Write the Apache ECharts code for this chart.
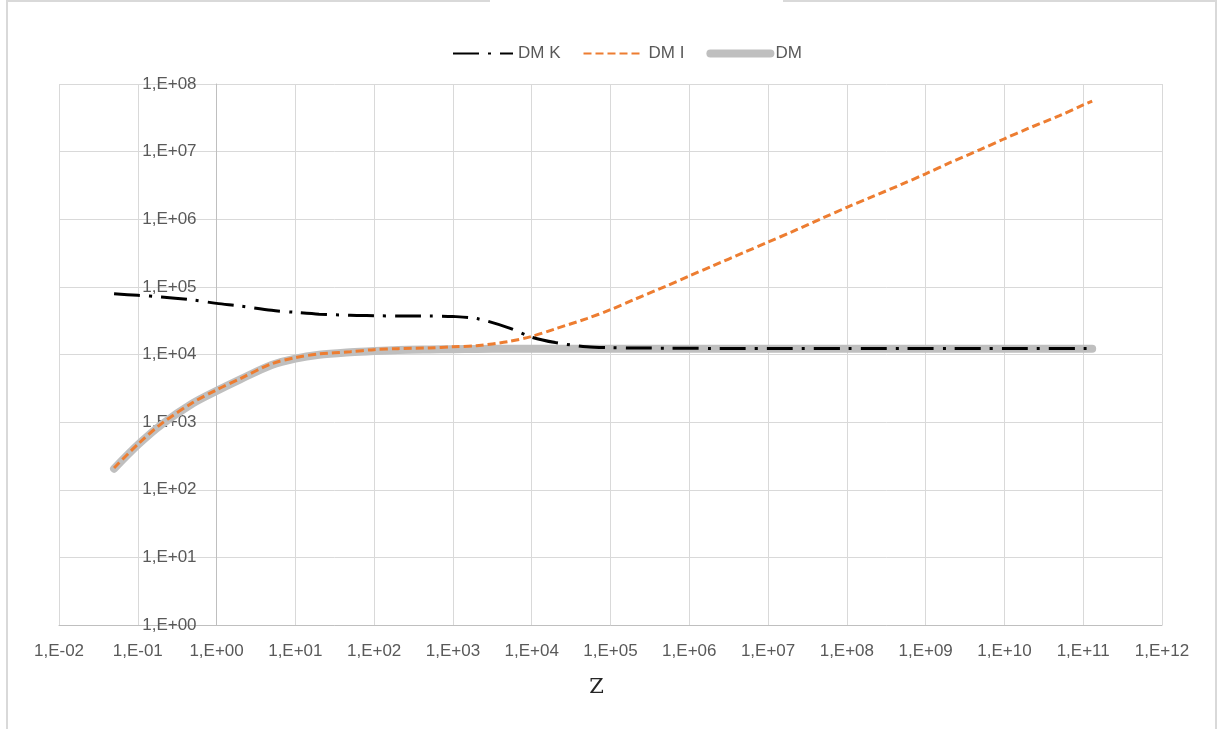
<!DOCTYPE html>
<html>
<head>
<meta charset="utf-8">
<script src="https://cdn.jsdelivr.net/npm/echarts@6/dist/echarts.min.js"></script>
<style>
html,body{margin:0;padding:0;background:#fff;}
#chart{width:1226px;height:729px;}
</style>
</head>
<body>
<div id="chart"></div>
<script>
// Z values (x axis)
const zValues = [0.05, 0.1, 0.2, 0.5, 1, 2, 5, 10, 20, 50, 100, 200, 500, 1e3, 2e3, 5e3, 1e4, 2e4, 5e4, 1e5, 2e5, 5e5, 1e6, 2e6, 5e6, 1e7, 2e7, 5e7, 1e8, 2e8, 5e8, 1e9, 2e9, 5e9, 1e10, 2e10, 5e10, 1e11, 1.3e11];
// DM K series
const dmK = [7.9e4, 7.5e4, 7.1e4, 6.4e4, 5.7e4, 5.2e4, 4.5e4, 4.2e4, 3.95e4, 3.8e4, 3.75e4, 3.7e4, 3.7e4, 3.65e4, 3.4e4, 2.5e4, 1.8e4, 1.5e4, 1.3e4, 1.26e4, 1.25e4, 1.24e4, 1.24e4, 1.23e4, 1.23e4, 1.23e4, 1.23e4, 1.23e4, 1.23e4, 1.23e4, 1.23e4, 1.23e4, 1.23e4, 1.23e4, 1.23e4, 1.23e4, 1.23e4, 1.23e4, 1.23e4];
// DM I series
const dmI = [210, 470, 950, 1950, 3000, 4400, 7300, 9000, 1.02e4, 1.1e4, 1.18e4, 1.22e4, 1.25e4, 1.3e4, 1.35e4, 1.55e4, 1.85e4, 2.4e4, 3.4e4, 4.6e4, 6.5e4, 1.02e5, 1.45e5, 2.05e5, 3.25e5, 4.6e5, 6.5e5, 1.05e6, 1.5e6, 2.1e6, 3.3e6, 4.7e6, 6.8e6, 1.08e7, 1.55e7, 2.2e7, 3.4e7, 4.9e7, 5.6e7];
// DM series
const dm = [205, 460, 920, 1900, 2900, 4300, 7000, 8700, 9900, 1.08e4, 1.13e4, 1.17e4, 1.19e4, 1.2e4, 1.21e4, 1.22e4, 1.22e4, 1.22e4, 1.22e4, 1.22e4, 1.22e4, 1.22e4, 1.22e4, 1.22e4, 1.22e4, 1.22e4, 1.22e4, 1.22e4, 1.22e4, 1.22e4, 1.22e4, 1.22e4, 1.22e4, 1.22e4, 1.22e4, 1.22e4, 1.22e4, 1.22e4, 1.22e4];
const seriesNames = ['DM K', 'DM I', 'DM'];
const xMin = 1e-2, xMax = 1e12, yMin = 1, yMax = 1e8;

function sciLabel(v) {
  const e = Math.round(Math.log10(v));
  return '1,E' + (e < 0 ? '-' : '+') + String(Math.abs(e)).padStart(2, '0');
}
function pairs(ys) { return zValues.map((x, i) => [x, ys[i]]); }

const W = 1226, H = 729;
const gridLeft = 59, gridRight = 64, gridTop = 84, gridBottom = 104;
const gridWidth = W - gridLeft - gridRight;
// y axis crosses at Z = 1
const yAxisOffset = -gridWidth * (Math.log10(1) - Math.log10(xMin)) / (Math.log10(xMax) - Math.log10(xMin));

const font = 'Liberation Sans, Arial, sans-serif';
const chart = echarts.init(document.getElementById('chart'), null, {renderer: 'canvas'});
chart.setOption({
  animation: false,
  backgroundColor: '#ffffff',
  graphic: [
    {type: 'line', shape: {x1: 7, y1: 0, x2: 7, y2: 729}, style: {stroke: '#d9d9d9', lineWidth: 2}},
    {type: 'line', shape: {x1: 1216, y1: 0, x2: 1216, y2: 729}, style: {stroke: '#d9d9d9', lineWidth: 2}},
    {type: 'line', shape: {x1: 7, y1: 1, x2: 490, y2: 1}, style: {stroke: '#d9d9d9', lineWidth: 2}},
    {type: 'line', shape: {x1: 783, y1: 1, x2: 1216, y2: 1}, style: {stroke: '#d9d9d9', lineWidth: 2}}
  ],
  legend: {
    data: [
      {name: seriesNames[0]},
      {name: seriesNames[1]},
      {name: seriesNames[2], lineStyle: {width: 8, cap: 'round'}}
    ],
    left: 447,
    top: 40,
    itemWidth: 60,
    itemHeight: 14,
    itemGap: 22,
    itemStyle: {opacity: 0},
    textStyle: {color: '#595959', fontSize: 17, fontFamily: font}
  },
  grid: {left: gridLeft, right: gridRight, top: gridTop, bottom: gridBottom, containLabel: false},
  xAxis: {
    type: 'log', logBase: 10, min: xMin, max: xMax, interval: 1,
    name: 'Z', nameLocation: 'middle', nameGap: 52,
    nameTextStyle: {fontFamily: 'DejaVu Serif, Liberation Serif, serif', fontSize: 21, color: '#262626', padding: [0, 28, 0, 0]},
    axisLine: {show: true, lineStyle: {color: '#bfbfbf', width: 1}},
    axisTick: {show: false},
    axisLabel: {formatter: sciLabel, color: '#595959', fontSize: 17, fontFamily: font, margin: 18, interval: 0},
    splitLine: {show: true, interval: 0, lineStyle: {color: '#d9d9d9', width: 1}},
    minorTick: {show: false}
  },
  yAxis: {
    type: 'log', logBase: 10, min: yMin, max: yMax, interval: 1,
    offset: yAxisOffset,
    axisLine: {show: true, lineStyle: {color: '#bfbfbf', width: 1}},
    axisTick: {show: false},
    axisLabel: {formatter: sciLabel, color: '#595959', fontSize: 17, fontFamily: font, margin: 20},
    splitLine: {show: true, lineStyle: {color: '#d9d9d9', width: 1}}
  },
  series: [
    {
      name: seriesNames[0], type: 'line', data: pairs(dmK), smooth: 0.3, symbol: 'none', z: 5,
      lineStyle: {color: '#000000', width: 3, type: [26, 9, 3, 9]},
      itemStyle: {color: '#000000'}
    },
    {
      name: seriesNames[1], type: 'line', data: pairs(dmI), smooth: 0.3, symbol: 'none', z: 4,
      lineStyle: {color: '#ED7D31', width: 3, type: [8, 4]},
      itemStyle: {color: '#ED7D31'}
    },
    {
      name: seriesNames[2], type: 'line', data: pairs(dm), smooth: 0.3, symbol: 'none', z: 3,
      lineStyle: {color: '#BFBFBF', width: 8, cap: 'round'},
      itemStyle: {color: '#BFBFBF'}
    }
  ]
});
</script>
</body>
</html>
